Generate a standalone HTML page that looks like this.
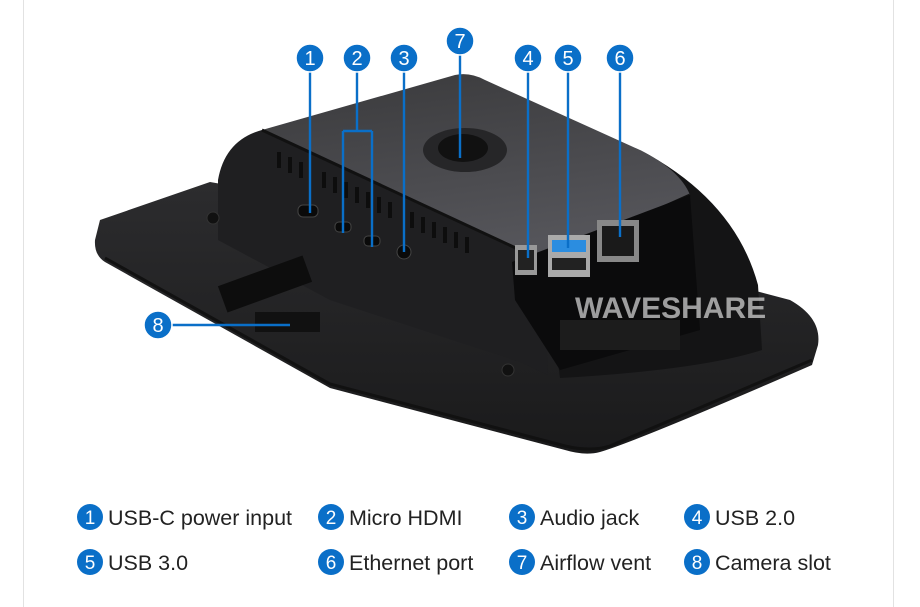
<!DOCTYPE html>
<html><head><meta charset="utf-8"><style>
html,body{margin:0;padding:0;background:#fff}
body{width:920px;height:607px;overflow:hidden;position:relative;font-family:"Liberation Sans",sans-serif}
</style></head><body>
<svg width="920" height="607" viewBox="0 0 920 607" xmlns="http://www.w3.org/2000/svg" style="position:absolute;left:0;top:0">
<defs>
<linearGradient id="top" x1="0" y1="0" x2="0.3" y2="1"><stop offset="0" stop-color="#3a3a3c"/><stop offset="1" stop-color="#55555a"/></linearGradient>
<linearGradient id="base" x1="0" y1="0" x2="0" y2="1"><stop offset="0" stop-color="#2c2c2e"/><stop offset="1" stop-color="#1a1a1b"/></linearGradient>
</defs>
<line x1="23.5" y1="0" x2="23.5" y2="607" stroke="#e2e2e2"/>
<line x1="893.5" y1="0" x2="893.5" y2="607" stroke="#e2e2e2"/>
<!-- base plate -->
<path d="M100,220 L210,182 L600,250 L790,300 Q822,318 818,345 L812,365 Q640,440 600,452 Q585,456 565,450 L330,388 L105,262 Q94,255 95,240 Z" fill="url(#base)"/>
<path d="M105,258 L330,384 L565,446 Q590,452 610,446 L812,360" fill="none" stroke="#111" stroke-width="3"/>
<!-- housing front face -->
<path d="M218,180 Q225,140 262,130 L520,250 L545,262 L548,375 L520,362 L330,300 L218,240 Z" fill="#1f1f21"/>
<!-- right end -->
<path d="M640,150 Q735,200 758,285 L762,350 Q700,370 560,378 L545,262 L690,195 Z" fill="#141415"/>
<!-- top face -->
<path d="M262,130 L455,75 Q470,72 485,80 L640,150 Q680,170 690,195 L545,260 L520,250 Z" fill="url(#top)"/>
<path d="M262,130 L520,250 L545,260 L690,195" fill="none" stroke="#111" stroke-width="3"/>
<!-- vent top -->
<ellipse cx="465" cy="150" rx="42" ry="22" fill="#262628"/>
<ellipse cx="463" cy="148" rx="25" ry="14" fill="#111"/>
<!-- side vents -->
<g fill="#0d0d0d">
<rect x="277" y="152" width="4" height="16"/><rect x="288" y="157" width="4" height="16"/><rect x="299" y="162" width="4" height="16"/>
<rect x="322" y="172" width="4" height="16"/><rect x="333" y="177" width="4" height="16"/><rect x="344" y="182" width="4" height="16"/><rect x="355" y="187" width="4" height="16"/><rect x="366" y="192" width="4" height="16"/><rect x="377" y="197" width="4" height="16"/><rect x="388" y="202" width="4" height="16"/><rect x="410" y="212" width="4" height="16"/><rect x="421" y="217" width="4" height="16"/><rect x="432" y="222" width="4" height="16"/><rect x="443" y="227" width="4" height="16"/><rect x="454" y="232" width="4" height="16"/><rect x="465" y="237" width="4" height="16"/>
</g>
<!-- ports -->
<rect x="298" y="205" width="20" height="12" rx="5" fill="#0a0a0a" stroke="#444"/>
<rect x="335" y="222" width="16" height="10" rx="4" fill="#0a0a0a" stroke="#444"/>
<rect x="364" y="236" width="16" height="10" rx="4" fill="#0a0a0a" stroke="#444"/>
<circle cx="404" cy="252" r="7" fill="#0a0a0a" stroke="#444"/>
<!-- port bay -->
<path d="M512,262 L690,195 L700,330 L560,370 L515,300 Z" fill="#0b0b0c"/>
<rect x="515" y="245" width="22" height="30" fill="#999"/><rect x="518" y="250" width="16" height="20" fill="#222"/>
<rect x="548" y="235" width="42" height="42" fill="#aaa"/><rect x="552" y="240" width="34" height="12" fill="#2b8de0"/><rect x="552" y="258" width="34" height="12" fill="#222"/>
<rect x="597" y="220" width="42" height="42" fill="#888"/><rect x="602" y="226" width="32" height="30" fill="#1a1a1a"/>
<rect x="560" y="320" width="120" height="30" fill="#1c1c1c"/>
<rect x="220" y="270" width="90" height="28" fill="#0d0d0d" transform="rotate(-20 265 284)"/>
<rect x="255" y="312" width="65" height="20" fill="#111"/>
<circle cx="213" cy="218" r="6" fill="#111" stroke="#333"/>
<circle cx="508" cy="370" r="6" fill="#111" stroke="#333"/>
<text x="575" y="318" font-family="Liberation Sans" font-weight="bold" font-size="30" fill="#cfcfcf" fill-opacity="0.75">WAVESHARE</text>
<!-- callouts -->
<g stroke="#0a6fc8" stroke-width="2.4" fill="none">
<path d="M310,70 V213"/>
<path d="M357,70 V131 M343,131 H372 M343,131 V233 M372,131 V247"/>
<path d="M404,70 V252"/>
<path d="M460,53 V158"/>
<path d="M528,70 V258"/>
<path d="M568,70 V248"/>
<path d="M620,70 V237"/>
<path d="M170,325 H290"/>
</g>
<g fill="#0a6fc8" stroke="#fff" stroke-width="1.5">
<circle cx="310" cy="58" r="14"/><circle cx="357" cy="58" r="14"/><circle cx="404" cy="58" r="14"/><circle cx="460" cy="41" r="14"/><circle cx="528" cy="58" r="14"/><circle cx="568" cy="58" r="14"/><circle cx="620" cy="58" r="14"/><circle cx="158" cy="325" r="14"/>
</g>
<g fill="#fff" font-family="Liberation Sans" font-size="20" text-anchor="middle">
<text x="310" y="65">1</text><text x="357" y="65">2</text><text x="404" y="65">3</text><text x="460" y="48">7</text><text x="528" y="65">4</text><text x="568" y="65">5</text><text x="620" y="65">6</text><text x="158" y="332">8</text>
</g>
<!-- legend -->
<g fill="#0a6fc8">
<circle cx="90" cy="517" r="13"/><circle cx="331" cy="517" r="13"/><circle cx="522" cy="517" r="13"/><circle cx="697" cy="517" r="13"/>
<circle cx="90" cy="562" r="13"/><circle cx="331" cy="562" r="13"/><circle cx="522" cy="562" r="13"/><circle cx="697" cy="562" r="13"/>
</g>
<g fill="#fff" font-family="Liberation Sans" font-size="19" text-anchor="middle">
<text x="90" y="524">1</text><text x="331" y="524">2</text><text x="522" y="524">3</text><text x="697" y="524">4</text>
<text x="90" y="569">5</text><text x="331" y="569">6</text><text x="522" y="569">7</text><text x="697" y="569">8</text>
</g>
<g fill="#222" font-family="Liberation Sans" font-size="21.5">
<text x="108" y="525">USB-C power input</text><text x="349" y="525">Micro HDMI</text><text x="540" y="525">Audio jack</text><text x="715" y="525">USB 2.0</text>
<text x="108" y="570">USB 3.0</text><text x="349" y="570">Ethernet port</text><text x="540" y="570">Airflow vent</text><text x="715" y="570">Camera slot</text>
</g>
</svg>
</body></html>
